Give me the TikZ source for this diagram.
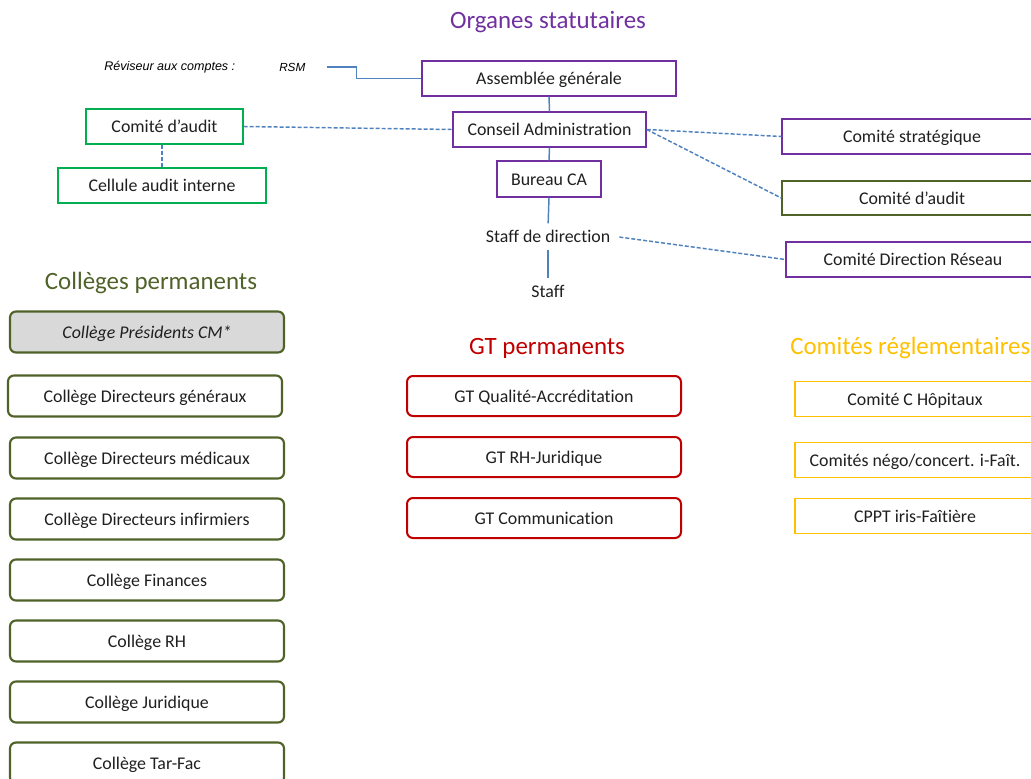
\documentclass[tikz,border=0pt]{standalone}
\usepackage{fontspec}
\setmainfont{Carlito}[Ligatures=NoCommon]
\newfontfamily\arialfont{Liberation Sans}
\usepackage{tikz}
\usetikzlibrary{calc}
\definecolor{orgpurple}{RGB}{112,48,160}
\definecolor{linkblue}{RGB}{79,129,189}
\definecolor{auditgreen}{RGB}{0,176,80}
\definecolor{olive}{RGB}{79,98,40}
\definecolor{gtred}{RGB}{192,0,0}
\definecolor{reglgold}{RGB}{255,192,0}
\definecolor{pgray}{RGB}{217,217,217}
\tikzset{
  boxtext/.style={font=\fontsize{13.4}{16}\selectfont, text=black!88, inner sep=0.75pt, text height=1em, text depth=0.1em},
  titletext/.style={font=\fontsize{18.7}{22}\selectfont, inner sep=0.75pt},
  orgbox/.style={boxtext, draw=orgpurple, line width=1.1pt, minimum height=26.25pt},
  auditbox/.style={boxtext, draw=auditgreen, line width=1.1pt, minimum height=26.25pt},
  collbox/.style={boxtext, draw=olive, line width=1.6pt, rounded corners=4.5pt, minimum width=205.5pt, minimum height=30.75pt},
  gtbox/.style={boxtext, draw=gtred, line width=1.5pt, rounded corners=4.5pt, minimum width=205.5pt, minimum height=30pt},
  reglbox/.style={boxtext, draw=reglgold, line width=1.1pt, minimum width=180pt, minimum height=26.25pt},
  solidlink/.style={draw=linkblue, line width=1.1pt},
  dashlink/.style={draw=linkblue, line width=1.1pt, dash pattern={on 3pt off 1.5pt}}
}

\begin{document}
\begin{tikzpicture}[x=0.75pt,y=0.75pt,yscale=-1,xscale=1]
\useasboundingbox (0,0) rectangle (1031,778);

% Text Node
\node [titletext, text=orgpurple] (orgtitle) at (548,22) {Organes statutaires};
% Text Node
\node [anchor=west, inner sep=0.75pt, font=\arialfont\itshape\fontsize{9.4}{11}\selectfont] (reviseur) at (103,67) {Réviseur aux comptes :};
% Text Node
\node [anchor=west, inner sep=0.75pt, font=\arialfont\itshape\fontsize{8.8}{10}\selectfont] (rsm) at (278,67) {RSM};

%Shape: Rectangle
\node [orgbox, minimum width=190.5pt] (ag) at (549,78.5) {Assemblée générale};
%Shape: Rectangle
\node [orgbox, minimum width=144.75pt] (ca) at (549.5,129.5) {Conseil Administration};
%Shape: Rectangle
\node [orgbox, minimum width=78pt, minimum height=27pt] (bureau) at (549,179) {Bureau CA};
% Text Node
\node [boxtext] (sdd) at (548,236) {Staff de direction};
% Text Node
\node [boxtext] (staff) at (548,291) {Staff};

%Shape: Rectangle
\node [auditbox, minimum width=117.75pt] (auditl) at (164.5,126.5) {Comité d’audit};
%Shape: Rectangle
\node [auditbox, minimum width=156pt] (cellule) at (162,185.5) {Cellule audit interne};

%Shape: Rectangle
\node [orgbox, minimum width=195pt] (strat) at (912,136.5) {Comité stratégique};
%Shape: Rectangle
\node [boxtext, draw=olive, line width=1.1pt, minimum width=195pt, minimum height=25.5pt] (auditr) at (912,198) {Comité d’audit};
%Shape: Rectangle
\node [orgbox, minimum width=190.5pt] (cdr) at (913,259.5) {Comité Direction Réseau};

%Straight Lines
\draw [solidlink, shorten <=15pt] (rsm.east) -- ++(50,0) |- (ag.west);
\draw [solidlink] (ag.south) -- (ca.north);
\draw [solidlink] (ca.south) -- (bureau.north);
\draw [solidlink, shorten >=3pt] (bureau.south) -- (sdd.north);
\draw [solidlink, shorten <=4pt, shorten >=3pt] (sdd.south) -- (staff.north);

%Dashed Lines
\draw [dashlink] (auditl.east) -- (ca.west);
\draw [dashlink] (auditl.south -| cellule.north) -- (cellule.north);
\draw [dashlink] (ca.east) -- (strat.west);
\draw [dashlink] (ca.east) -- (auditr.west);
\draw [dashlink, shorten <=6pt] (sdd.east) -- (cdr.west);

% Text Node
\node [titletext, text=olive] (colltitle) at (151,283) {Collèges permanents};
%Shape: Rounded Rectangle
\node [collbox, fill=pgray, font=\fontsize{13.4}{16}\selectfont\itshape] (coll1) at (147,332) {Collège Présidents CM*};
\node [collbox] (coll2) at (145,396) {Collège Directeurs généraux};
\node [collbox] (coll3) at (147,458) {Collège Directeurs médicaux};
\node [collbox] (coll4) at (147,519) {Collège Directeurs infirmiers};
\node [collbox] (coll5) at (147,580) {Collège Finances};
\node [collbox] (coll6) at (147,641) {Collège RH};
\node [collbox] (coll7) at (147,702) {Collège Juridique};
\node [collbox] (coll8) at (147,763) {Collège Tar-Fac};

% Text Node
\node [titletext, text=gtred] (gttitle) at (547,348) {GT permanents};
%Shape: Rounded Rectangle
\node [gtbox] (gt1) at (544,396) {GT Qualité-Accréditation};
\node [gtbox] (gt2) at (544,457) {GT RH-Juridique};
\node [gtbox] (gt3) at (544,518) {GT Communication};

% Text Node
\node [titletext, text=reglgold, anchor=west] (regltitle) at (789,348) {Comités réglementaires};
%Shape: Rectangle
\node [reglbox] (regl1) at (915,399) {Comité C Hôpitaux};
\node [reglbox] (regl2) at (915,460) {Comités négo/concert. i-Faît.};
\node [reglbox] (regl3) at (915,516) {CPPT iris-Faîtière};

\end{tikzpicture}
\end{document}
